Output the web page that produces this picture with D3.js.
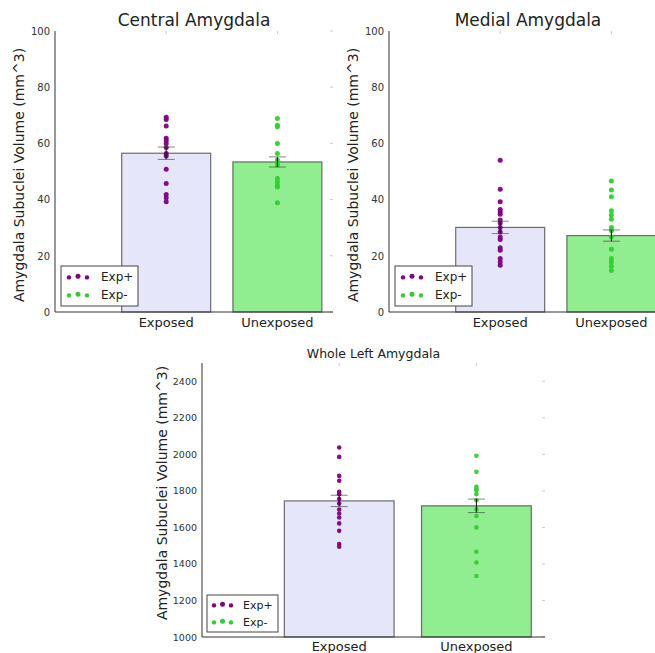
<!DOCTYPE html>
<html>
<head>
<meta charset="utf-8">
<script src="https://cdn.jsdelivr.net/npm/d3@7"></script>
<style>
  html, body { margin: 0; padding: 0; background: #fff; }
  svg { display: block; font-family: "DejaVu Sans", sans-serif; }
</style>
</head>
<body>
<svg id="chart" width="655" height="653"></svg>
<script>
// groups and legend
const groups = ["Exposed", "Unexposed"];
const legendLabels = ["Exp+", "Exp-"];

// central amygdala (mm^3)
const centralMeans = [56.5, 53.4];
const centralSem = [2.2, 1.8];
const centralExposed = [69.3, 68.5, 66.2, 61.8, 60.9, 60.0, 58.5, 56.4, 55.5, 50.8, 45.7, 41.8, 40.7, 39.2];
const centralUnexposed = [68.9, 66.5, 65.9, 60.0, 56.4, 54.1, 53.0, 52.3, 47.5, 46.3, 45.1, 44.5, 38.9];

// medial amygdala (mm^3)
const medialMeans = [30.1, 27.2];
const medialSem = [2.2, 2.0];
const medialExposed = [54.0, 43.7, 39.2, 36.5, 35.6, 34.8, 32.7, 31.7, 30.1, 28.5, 26.7, 25.8, 22.9, 22.0, 19.0, 17.8, 16.6];
const medialUnexposed = [46.6, 43.4, 41.0, 36.0, 34.5, 33.0, 30.1, 28.9, 26.7, 22.3, 19.0, 17.8, 16.3, 14.8];

// whole left amygdala (mm^3)
const wholeMeans = [1745, 1718];
const wholeSem = [31, 37];
const wholeExposed = [2037, 1986, 1882, 1855, 1795, 1782, 1755, 1731, 1698, 1676, 1654, 1622, 1581, 1509, 1494];
const wholeUnexposed = [1992, 1904, 1822, 1810, 1804, 1782, 1749, 1700, 1662, 1600, 1467, 1408, 1334];

const yTicksSmall = [0, 20, 40, 60, 80, 100];
const yTicksWhole = [1000, 1200, 1400, 1600, 1800, 2000, 2200, 2400];

const barFill = ["#e6e6fa", "#90ee90"];
const dotColor = ["#800080", "#32cd32"];

const svg = d3.select("#chart");

function drawPanel(p) {
  const g = svg.append("g");
  const x = d3.scaleLinear().domain([-1, 1.5]).range([p.left, p.right]);
  const y = d3.scaleLinear().domain(p.yDomain).range([p.bottom, p.top]);
  const bw = x(0.4) - x(0);

  // bars
  g.selectAll("rect.bar")
    .data(p.means)
    .join("rect")
    .attr("class", "bar")
    .attr("x", (d, i) => x(i) - bw)
    .attr("y", d => y(d))
    .attr("width", bw * 2)
    .attr("height", d => y(p.yDomain[0]) - y(d))
    .attr("fill", (d, i) => barFill[i])
    .attr("stroke", "#555")
    .attr("stroke-opacity", 0.85)
    .attr("stroke-width", 1.2);

  // points
  [p.exposed, p.unexposed].forEach((vals, i) => {
    g.selectAll(null)
      .data(vals)
      .join("circle")
      .attr("cx", x(i))
      .attr("cy", d => y(d))
      .attr("r", p.dotR)
      .attr("fill", dotColor[i])
      .attr("fill-opacity", 0.95);
  });

  // error bars
  p.means.forEach((m, i) => {
    const cx = x(i);
    const lo = y(m - p.sem[i]), hi = y(m + p.sem[i]);
    g.append("line").attr("x1", cx).attr("x2", cx).attr("y1", lo).attr("y2", hi)
      .attr("stroke", "#111").attr("stroke-width", 1);
    [lo, hi].forEach(yy => {
      g.append("line").attr("x1", cx - 8.5).attr("x2", cx + 8.5).attr("y1", yy).attr("y2", yy)
        .attr("stroke", "#333").attr("stroke-opacity", 0.6).attr("stroke-width", 1);
    });
  });

  // left axis
  const yAxis = d3.axisLeft(y).tickValues(p.yTicks).tickFormat(d3.format("d")).tickSize(0).tickPadding(5);
  const ya = g.append("g").attr("transform", `translate(${p.left},0)`).call(yAxis);
  ya.select(".domain").remove();
  ya.selectAll("text").attr("font-size", p.tickFont).attr("fill", "#333")
    .attr("font-family", "DejaVu Sans, sans-serif");
  g.append("line").attr("x1", p.left).attr("x2", p.left).attr("y1", p.top).attr("y2", p.bottom)
    .attr("stroke", "#333").attr("stroke-width", 1);

  // faint inner ticks (right, top)
  p.yTicks.forEach(t => {
    g.append("line").attr("x1", p.right - 3).attr("x2", p.right).attr("y1", y(t)).attr("y2", y(t))
      .attr("stroke", "#ccc");
  });
  groups.forEach((gname, i) => {
    g.append("line").attr("x1", x(i)).attr("x2", x(i)).attr("y1", p.top).attr("y2", p.top + 3)
      .attr("stroke", "#ccc");
  });

  // bottom axis
  g.append("line").attr("x1", p.left).attr("x2", p.right).attr("y1", p.bottom).attr("y2", p.bottom)
    .attr("stroke", "#333").attr("stroke-width", 1);
  g.selectAll("text.xlab")
    .data(groups)
    .join("text")
    .attr("class", "xlab")
    .attr("x", (d, i) => x(i))
    .attr("y", p.bottom + p.xLabOffset)
    .attr("text-anchor", "middle")
    .attr("font-size", 13)
    .attr("fill", "#222")
    .text(d => d);

  // title
  g.append("text")
    .attr("x", (p.left + p.right) / 2)
    .attr("y", p.titleY)
    .attr("text-anchor", "middle")
    .attr("font-size", p.titleFont)
    .attr("fill", "#222")
    .text(p.title);

  // y label
  g.append("text")
    .attr("transform", `translate(${p.yLabX},${p.yLabY}) rotate(-90)`)
    .attr("text-anchor", "middle")
    .attr("font-size", p.yLabFont)
    .attr("fill", "#222")
    .text("Amygdala Subuclei Volume (mm^3)");

  // legend
  const L = p.legend;
  const lg = g.append("g").attr("transform", `translate(${L.x},${L.y})`);
  lg.append("rect").attr("width", L.w).attr("height", L.h)
    .attr("fill", "#fff").attr("stroke", "#444").attr("stroke-width", 1);
  legendLabels.forEach((lab, i) => {
    const ry = L.row0 + i * L.rowGap;
    [0, 1, 2].forEach(k => {
      lg.append("circle")
        .attr("cx", L.dot0 + k * L.dotGap)
        .attr("cy", ry + (k === 1 ? -0.8 : 0.4))
        .attr("r", k === 1 ? 2.5 : 2.2)
        .attr("fill", dotColor[i]);
    });
    lg.append("text")
      .attr("x", L.textX)
      .attr("y", ry + 4)
      .attr("font-size", L.font)
      .attr("fill", "#222")
      .text(lab);
  });
}

drawPanel({
  title: "Central Amygdala", titleY: 26, titleFont: 17,
  left: 55, right: 333, top: 31, bottom: 312,
  yDomain: [0, 100], yTicks: yTicksSmall, tickFont: 10,
  means: centralMeans, sem: centralSem,
  exposed: centralExposed, unexposed: centralUnexposed,
  dotR: 2.5, yLabX: 24, yLabY: 175, yLabFont: 14, xLabOffset: 15,
  legend: { x: 61, y: 266, w: 77, h: 40, row0: 11, rowGap: 18, dot0: 8, dotGap: 9, textX: 40, font: 12 }
});

drawPanel({
  title: "Medial Amygdala", titleY: 26, titleFont: 17,
  left: 389, right: 667, top: 31, bottom: 312,
  yDomain: [0, 100], yTicks: yTicksSmall, tickFont: 10,
  means: medialMeans, sem: medialSem,
  exposed: medialExposed, unexposed: medialUnexposed,
  dotR: 2.5, yLabX: 358, yLabY: 175, yLabFont: 14, xLabOffset: 15,
  legend: { x: 395, y: 266, w: 77, h: 40, row0: 11, rowGap: 18, dot0: 8, dotGap: 9, textX: 40, font: 12 }
});

drawPanel({
  title: "Whole Left Amygdala", titleY: 358, titleFont: 12.5,
  left: 202, right: 545, top: 363, bottom: 637,
  yDomain: [1000, 2500], yTicks: yTicksWhole, tickFont: 9.5,
  means: wholeMeans, sem: wholeSem,
  exposed: wholeExposed, unexposed: wholeUnexposed,
  dotR: 2.3, yLabX: 167, yLabY: 493, yLabFont: 14, xLabOffset: 14,
  legend: { x: 207, y: 595, w: 71, h: 37, row0: 10, rowGap: 17, dot0: 7, dotGap: 8.5, textX: 36, font: 11 }
});
</script>
</body>
</html>
